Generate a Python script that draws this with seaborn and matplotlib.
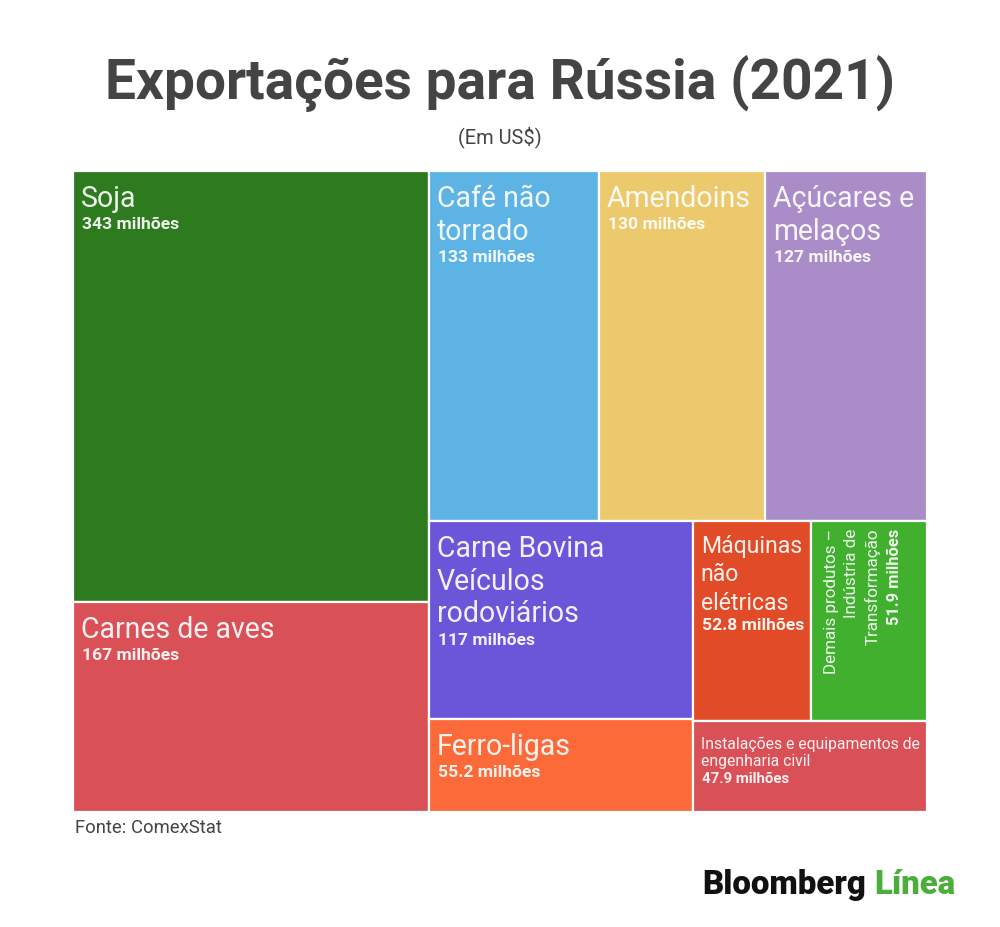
import matplotlib
matplotlib.use("Agg")
import matplotlib.pyplot as plt
import seaborn as sns
from matplotlib.patches import Rectangle

# ----------------------------
# DATA
# ----------------------------
labels = [
    "Soja",
    "Carnes de aves",
    "Café não\ntorrado",
    "Amendoins",
    "Açúcares e\nmelaços",
    "Carne Bovina\nVeículos\nrodoviários",
    "Ferro-ligas",
    "Máquinas\nnão\nelétricas",
    "Demais produtos –\nIndústria de\nTransformação",
    "Instalações e equipamentos de\nengenharia civil",
]
values = [343, 167, 133, 130, 127, 117, 55.2, 52.8, 51.9, 47.9]
colors = ["#2e7a1f", "#d95156", "#5db4e4", "#edc96e", "#aa8dc8",
          "#6b55d9", "#fc6a3a", "#e24b28", "#40b02e", "#d95156"]

# text style per cell: (name px, value px, linespacing, top pad px, rotated)
styles = {
    "Máquinas\nnão\nelétricas": (23, 17.5, 1.3, 13, False),
    "Demais produtos –\nIndústria de\nTransformação": (17, 16.5, 1.44, 7, True),
    "Instalações e equipamentos de\nengenharia civil": (15.7, 15, 1.22, 15, False),
}
default_style = (28.5, 17.5, 1.22, 13, False)


# ----------------------------
# SQUARIFY LAYOUT (golden ratio, like d3)
# ----------------------------
def squarify(vals, x0, y0, x1, y1, ratio=(1 + 5 ** 0.5) / 2):
    rects = [None] * len(vals)
    total = sum(vals)
    i0, n = 0, len(vals)
    while i0 < n:
        dx, dy = x1 - x0, y1 - y0
        s = mn = mx = vals[i0]
        i1 = i0 + 1
        alpha = max(dy / dx, dx / dy) / (total * ratio)
        beta = s * s * alpha
        best = max(mx / beta, beta / mn)
        while i1 < n:
            v = vals[i1]
            s2, mn2, mx2 = s + v, min(mn, v), max(mx, v)
            beta = s2 * s2 * alpha
            r = max(mx2 / beta, beta / mn2)
            if r > best:
                break
            s, mn, mx, best = s2, mn2, mx2, r
            i1 += 1
        if dx < dy:
            h = dy * s / total
            xx = x0
            for i in range(i0, i1):
                w = dx * vals[i] / s
                rects[i] = (xx, y0, w, h)
                xx += w
            y0 += h
        else:
            w = dx * s / total
            yy = y0
            for i in range(i0, i1):
                h = dy * vals[i] / s
                rects[i] = (x0, yy, w, h)
                yy += h
            x0 += w
        total -= s
        i0 = i1
    return rects


# ----------------------------
# PLOT
# ----------------------------
sns.set_style("white")
plt.rcParams['font.family'] = ['Roboto', 'DejaVu Sans']

FW, FH = 1000, 928
fig = plt.figure(figsize=(FW / 100, FH / 100), dpi=100)
ax_l, ax_t, ax_w, ax_h = 73, 172, 854, 641
ax = fig.add_axes([ax_l / FW, 1 - (ax_t + ax_h) / FH, ax_w / FW, ax_h / FH])
ax.set_xlim(0, ax_w)
ax.set_ylim(ax_h, 0)
ax.axis("off")

rects = squarify(values, 0, 0, ax_w, ax_h)
for (x, y, w, h), c in zip(rects, colors):
    ax.add_patch(Rectangle((x, y), w, h, facecolor=c, edgecolor="white", linewidth=1.6))

px = 0.72  # px -> pt at dpi 100
txt_col = "white"
fig.canvas.draw()
renderer = fig.canvas.get_renderer()

for (x, y, w, h), lab, v in zip(rects, labels, values):
    name_px, val_px, ls, pad, rot = styles.get(lab, default_style)
    vtxt = f"{v:g} milhões"
    if not rot:
        t = ax.annotate(lab, xy=(x, y), xytext=(8 * px, -pad * px), textcoords="offset points",
                        ha="left", va="top", fontsize=name_px * px, color=txt_col,
                        alpha=0.92, linespacing=ls)
        bb = t.get_window_extent(renderer)
        ax.annotate(vtxt, xy=(bb.x0 + 1, bb.y0 - 0.15 * name_px), xycoords="figure pixels",
                    ha="left", va="top", fontsize=val_px * px, color=txt_col,
                    alpha=0.92, fontweight="bold")
    else:
        t = ax.annotate(lab, xy=(x, y), xytext=(13 * px, -pad * px), textcoords="offset points",
                        ha="left", va="top", fontsize=name_px * px, color=txt_col,
                        alpha=0.92, rotation=90, multialignment="right", linespacing=ls)
        bb = t.get_window_extent(renderer)
        ax.annotate(vtxt, xy=(bb.x1 + 6, bb.y1), xycoords="figure pixels",
                    ha="left", va="top", fontsize=val_px * px, color=txt_col,
                    alpha=0.92, fontweight="bold", rotation=90)

# ----------------------------
# TITLES / FOOTER
# ----------------------------
fig.text(0.5, 1 - 83 / FH, "Exportações para Rússia (2021)", ha="center", va="center",
         fontsize=55 * px, fontweight="bold", color="#444444")
fig.text(0.5, 1 - 137 / FH, "(Em US$)", ha="center", va="center",
         fontsize=20 * px, color="#444444")
fig.text(75 / FW, 1 - 828 / FH, "Fonte: ComexStat", ha="left", va="center",
         fontsize=18.5 * px, color="#444444")

t2 = fig.text(955 / FW, 1 - 885 / FH, "Línea", ha="right", va="center",
              fontsize=33 * px, fontweight="black", color="#4cae3a")
bb2 = t2.get_window_extent(renderer)
fig.text((bb2.x0 - 8) / FW, 1 - 885 / FH, "Bloomberg", ha="right", va="center",
         fontsize=33 * px, fontweight="black", color="#111111")

fig.savefig("out.png", dpi=100)
